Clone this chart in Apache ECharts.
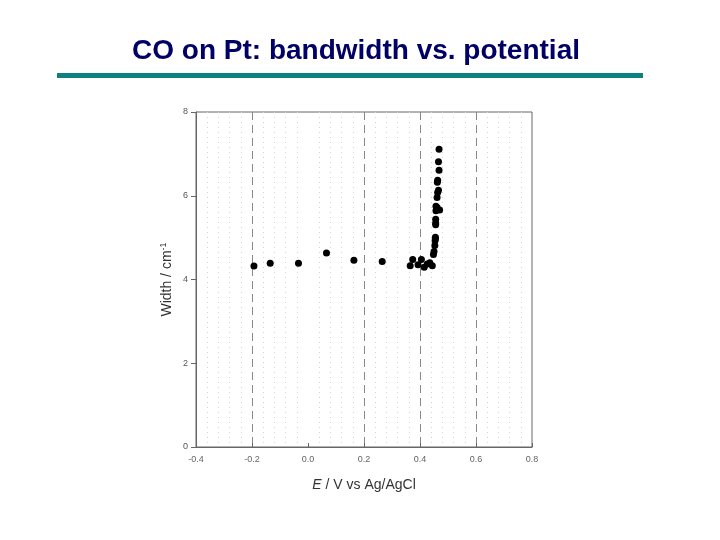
<!DOCTYPE html>
<html><head><meta charset="utf-8">
<script src="https://cdn.jsdelivr.net/npm/echarts@6/dist/echarts.min.js"></script>
<style>html,body{margin:0;padding:0;background:#fff}#c{width:720px;height:540px}</style>
</head><body><div id="c"></div>
<script>
const potentials = [-0.193,-0.135,-0.034,0.066,0.164,0.265,
  0.365,0.374,0.393,0.405,0.415,0.426,0.435,0.444,
  0.448,0.450,0.453,0.454,0.455,0.456,0.456,0.457,0.461,0.470,
  0.461,0.463,0.466,0.462,0.463,0.468,0.466,0.468,0.455,0.456,0.457];
const widths = [4.32,4.39,4.39,4.63,4.46,4.43,
  4.33,4.48,4.35,4.48,4.29,4.37,4.40,4.33,
  4.60,4.67,4.81,4.93,5.01,5.31,5.44,5.64,5.72,5.66,
  5.96,6.08,6.13,6.32,6.37,6.61,6.81,7.11,4.98,5.35,5.75];
const xTicks = [-0.4,-0.2,0.0,0.2,0.4,0.6,0.8];
const yTicks = [0,2,4,6,8];

const chart = echarts.init(document.getElementById('c'));
chart.setOption({
  animation:false,
  backgroundColor:'#fff',
  title:{text:'CO on Pt: bandwidth vs. potential',left:351,top:32,textAlign:'center',
    textStyle:{fontFamily:'Liberation Sans, Arial, sans-serif',fontWeight:'bold',fontSize:28,color:'#000066'}},
  graphic:[{type:'rect',shape:{x:57,y:73,width:586,height:5},style:{fill:'#0f8080'}}],
  grid:{left:196,right:188,top:112,bottom:93,show:true,borderColor:'#666',borderWidth:1,backgroundColor:'transparent'},
  xAxis:{type:'value',min:xTicks[0],max:xTicks[xTicks.length-1],interval:0.2,
    axisLine:{onZero:false,lineStyle:{color:'#666'}},
    axisTick:{inside:true,length:4,lineStyle:{color:'#666'}},
    axisLabel:{color:'#666',fontSize:9,fontFamily:'Liberation Sans, Arial',margin:8,
      formatter:v=>v.toFixed(1)},
    splitLine:{show:true,lineStyle:{type:[8,5],color:['rgba(0,0,0,0)','#888','rgba(0,0,0,0)','#888','#888','#888','rgba(0,0,0,0)'],width:1}},
    minorTick:{show:false,splitNumber:5},
    minorSplitLine:{show:true,lineStyle:{type:[1,4],color:'#d4d4d4',width:1}},
    name:'{i|E} / V vs Ag/AgCl',nameLocation:'middle',nameGap:31,
    nameTextStyle:{fontSize:14,color:'#333',fontFamily:'Liberation Sans, Arial',
      rich:{i:{fontStyle:'italic',fontSize:14,color:'#333',fontFamily:'Liberation Sans, Arial'}}}
  },
  yAxis:{type:'value',min:yTicks[0],max:yTicks[yTicks.length-1],interval:2,
    axisLine:{show:true,onZero:false,lineStyle:{color:'#666'}},
    axisTick:{show:true,inside:false,length:5,lineStyle:{color:'#666'}},
    axisLabel:{color:'#555',fontSize:9,fontFamily:'Liberation Sans, Arial',margin:8},
    splitLine:{show:false},
    name:'Width / cm{s|-1}',nameLocation:'middle',nameGap:20,nameRotate:90,
    nameTextStyle:{fontSize:14,color:'#333',fontFamily:'Liberation Sans, Arial',
      rich:{s:{fontSize:9,color:'#333',verticalAlign:'top',padding:[0,0,8,0],fontFamily:'Liberation Sans, Arial'}}}
  },
  series:[{type:'scatter',symbol:'circle',symbolSize:7,itemStyle:{color:'#000',opacity:1},
    data:potentials.map((p,i)=>[p,widths[i]])}]
});
</script></body></html>
